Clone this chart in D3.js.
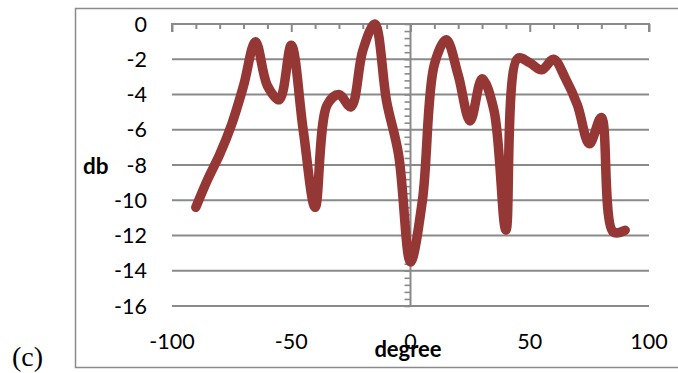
<!DOCTYPE html>
<html>
<head>
<meta charset="utf-8">
<script src="https://cdn.jsdelivr.net/npm/d3@7"></script>
<style>
  html, body { margin: 0; padding: 0; background: #fff; }
  svg { display: block; }
</style>
</head>
<body>
<svg id="chart" width="678" height="373"></svg>
<script>
// Pattern response, sampled every 5 degrees
const degrees = [-90, -85, -80, -75, -70, -65, -60, -55, -50, -45, -40, -35, -30, -25, -20, -15, -10, -5,
                 0, 5, 10, 15, 20, 25, 30, 35, 40, 45, 50, 55, 60, 65, 70, 75, 80, 85, 90];
const dbValues = [-10.4, -8.8, -7.4, -5.7, -3.5, -1.0, -3.5, -4.3, -1.2, -6.0, -10.4, -4.6, -4.0, -4.7, -1.5, 0.0, -4.4, -7.4,
                  -13.5, -10.0, -2.3, -0.9, -2.9, -5.5, -3.1, -4.9, -11.7, -1.95, -2.2, -2.6, -2.0, -3.1, -4.6, -6.8, -5.3, -11.8, -11.7];

const xTicks = [-100, -50, 0, 50, 100];
const yTicks = [0, -2, -4, -6, -8, -10, -12, -14, -16];
const xTitle = "degree";
const yTitle = "db";
const panelLabel = "(c)";

const svg = d3.select("#chart");
const gray = "#8a8a8a";
const lineColor = "#953735";
const font = "Lato, 'Open Sans', sans-serif";

const x = d3.scaleLinear().domain([-100, 100]).range([172, 649]);
const y = d3.scaleLinear().domain([-16, 0]).range([306, 24]);

// outer frame
svg.append("rect")
  .attr("x", 75.5).attr("y", 8.5)
  .attr("width", 640).attr("height", 359)
  .attr("fill", "none").attr("stroke", gray).attr("stroke-width", 1.5);

// horizontal gridlines
svg.append("g").selectAll("line")
  .data(yTicks.filter(v => v !== 0))
  .join("line")
  .attr("x1", x(-100)).attr("x2", x(100))
  .attr("y1", d => y(d)).attr("y2", d => y(d))
  .attr("stroke", gray).attr("stroke-width", 2);

// horizontal axis along db = 0, minor ticks every 10 degrees, longer at labelled values
const xAxis = svg.append("g").attr("transform", `translate(0,${y(0)})`);
xAxis.call(d3.axisBottom(x).tickValues(d3.range(-100, 101, 10)).tickSize(5).tickFormat(""));
xAxis.selectAll(".tick line")
  .attr("y2", d => (d % 50 === 0 ? 8 : 5));
xAxis.selectAll("line, path").attr("stroke", gray).attr("stroke-width", 2);
xAxis.select(".domain").attr("d", `M${x(-100)},8V0H${x(100)}V8`);

// vertical axis along 0 degrees, minor ticks every 0.4 dB
const yAxis = svg.append("g").attr("transform", `translate(${x(0)},0)`);
yAxis.call(d3.axisLeft(y).tickValues(d3.range(0, 41).map(i => -i * 0.4)).tickSize(6).tickFormat(""));
yAxis.selectAll("line, path").attr("stroke", gray).attr("stroke-width", 1.6);
yAxis.select(".domain").attr("d", `M0,${y(0)}V${y(-16)}`).attr("stroke-width", 2);

// y tick labels
svg.append("g").selectAll("text")
  .data(yTicks)
  .join("text")
  .attr("x", 147).attr("y", d => y(d))
  .attr("dy", "0.36em")
  .attr("text-anchor", "end")
  .attr("font-family", font).attr("font-size", 21.5).attr("fill", "#000")
  .text(d => d);

// x tick labels along the bottom
svg.append("g").selectAll("text")
  .data(xTicks)
  .join("text")
  .attr("x", d => x(d)).attr("y", 349)
  .attr("text-anchor", "middle")
  .attr("font-family", font).attr("font-size", 21.5).attr("fill", "#000")
  .text(d => d);

// axis titles
svg.append("text")
  .attr("x", 83).attr("y", 174)
  .attr("font-family", font).attr("font-weight", "bold").attr("font-size", 22.5)
  .text(yTitle);
svg.append("text")
  .attr("x", 408).attr("y", 357)
  .attr("text-anchor", "middle")
  .attr("font-family", font).attr("font-weight", "bold").attr("font-size", 22)
  .text(xTitle);

svg.append("text")
  .attr("x", 12).attr("y", 366)
  .attr("font-family", "'Liberation Serif', 'Times New Roman', serif").attr("font-size", 28)
  .text(panelLabel);

// response curve
const line = d3.line()
  .x((d, i) => x(degrees[i]))
  .y(d => y(d))
  .curve(d3.curveCatmullRom.alpha(0.5));

svg.append("path")
  .datum(dbValues)
  .attr("d", line)
  .attr("fill", "none")
  .attr("stroke", lineColor)
  .attr("stroke-width", 9.5)
  .attr("stroke-linecap", "round")
  .attr("stroke-linejoin", "round");
</script>
</body>
</html>
